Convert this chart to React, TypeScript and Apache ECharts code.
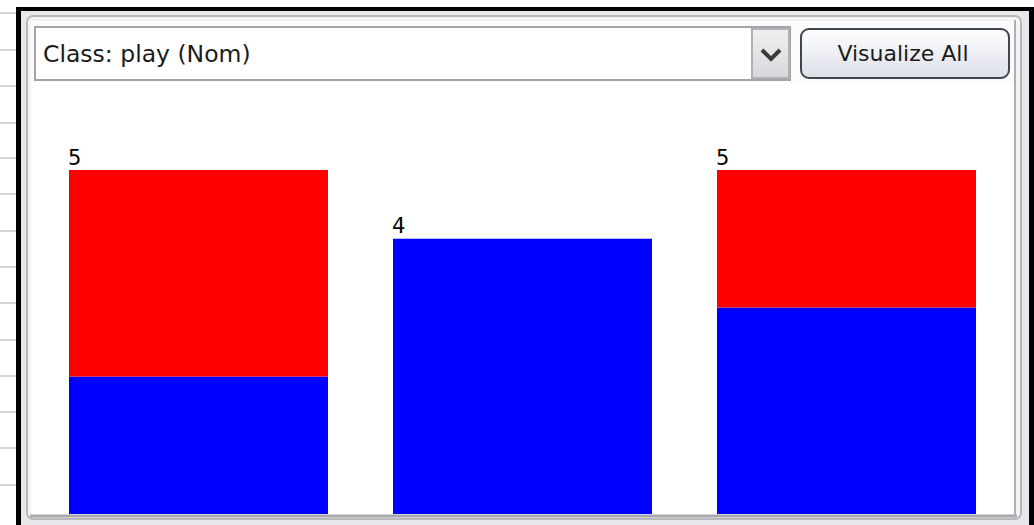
import React, { useEffect, useRef } from "react";
import * as echarts from "echarts";

const categories = ["sunny", "overcast", "rainy"];
const yesCounts = [2, 4, 3];
const noCounts = [3, 0, 2];
const totals = [5, 4, 5];
const classLabel = "Class: play (Nom)";
const buttonLabel = "Visualize All";
const tableLineYs = [13, 50, 86, 123, 158, 194, 231, 267, 303, 340, 376, 412, 448, 485];

const FONT = "DejaVu Sans";

export default function App() {
  const ref = useRef<HTMLDivElement>(null);
  useEffect(() => {
    if (!ref.current) return;
    const chart = echarts.init(ref.current, null, { renderer: "svg" });
    const graphics: any[] = [];
    tableLineYs.forEach((y) =>
      graphics.push({
        type: "line",
        z: -10,
        shape: { x1: 0, y1: y, x2: 16, y2: y },
        style: { stroke: "#d4d4d4", lineWidth: 2 },
      })
    );
    graphics.push({
      type: "rect",
      z: -10,
      shape: { x: 21, y: 11, width: 1008, height: 514 },
      style: { fill: "#e8e8ec" },
    });
    graphics.push({
      type: "rect",
      z: -9,
      shape: { x: 27, y: 16, width: 994, height: 503, r: 6 },
      style: { fill: "#f3f3f5", stroke: "#b8b8bc", lineWidth: 2 },
    });
    graphics.push({
      type: "rect",
      z: -8,
      shape: { x: 31, y: 82, width: 983, height: 433 },
      style: { fill: "#ffffff" },
    });
    graphics.push({
      type: "rect",
      z: -8,
      shape: { x: 31, y: 21, width: 983, height: 62 },
      style: { fill: "#fbfbfc" },
    });
    graphics.push({
      type: "line",
      z: -7,
      shape: { x1: 30, y1: 516, x2: 1017, y2: 516 },
      style: { stroke: "#a8a8ac", lineWidth: 3 },
    });
    graphics.push({
      type: "line",
      z: -7,
      shape: { x1: 1015, y1: 20, x2: 1015, y2: 516 },
      style: { stroke: "#b0b0b4", lineWidth: 2 },
    });
    graphics.push({ type: "rect", z: 10, shape: { x: 16, y: 7, width: 1018, height: 4 }, style: { fill: "#000" } });
    graphics.push({ type: "rect", z: 10, shape: { x: 16, y: 7, width: 5, height: 518 }, style: { fill: "#000" } });
    graphics.push({ type: "rect", z: 10, shape: { x: 1029, y: 7, width: 5, height: 518 }, style: { fill: "#000" } });
    graphics.push({
      type: "rect",
      z: 1,
      shape: { x: 35, y: 27, width: 755, height: 53 },
      style: { fill: "#ffffff", stroke: "#a4a4a8", lineWidth: 2 },
    });
    graphics.push({
      type: "text",
      z: 2,
      x: 43,
      y: 54,
      style: { text: classLabel, font: `23.5px "${FONT}"`, fill: "#1a1a1a", verticalAlign: "middle", align: "left" },
    });
    graphics.push({
      type: "rect",
      z: 2,
      shape: { x: 752, y: 29, width: 37, height: 49 },
      style: {
        fill: new echarts.graphic.LinearGradient(0, 0, 0, 1, [
          { offset: 0, color: "#f0f0f2" },
          { offset: 1, color: "#d8d8dc" },
        ]),
        stroke: "#b0b0b6",
        lineWidth: 2,
      },
    });
    graphics.push({
      type: "polyline",
      z: 3,
      shape: { points: [[762, 50], [771, 59], [780, 50]] },
      style: { stroke: "#3a3a3a", lineWidth: 4, fill: "none" },
    });
    graphics.push({
      type: "rect",
      z: 1,
      shape: { x: 801, y: 29, width: 208, height: 49, r: 8 },
      style: {
        fill: new echarts.graphic.LinearGradient(0, 0, 0, 1, [
          { offset: 0, color: "#ffffff" },
          { offset: 1, color: "#dcdfe8" },
        ]),
        stroke: "#3e4650",
        lineWidth: 2,
      },
    });
    graphics.push({
      type: "text",
      z: 2,
      x: 903,
      y: 53,
      style: { text: buttonLabel, font: `22px "${FONT}"`, fill: "#1a1a1a", verticalAlign: "middle", align: "center" },
    });

    chart.setOption({
      animation: false,
      backgroundColor: "#ffffff",
      graphic: graphics,
      grid: { left: 36.5, right: 25.5, top: 170, bottom: 11 },
      xAxis: { type: "category", data: categories, show: false },
      yAxis: { type: "value", min: 0, max: 5, show: false },
      series: [
        {
          name: "yes",
          type: "bar",
          stack: "play",
          barWidth: 259,
          data: yesCounts,
          itemStyle: { color: "#0000ff" },
          z: 2,
        },
        {
          name: "no",
          type: "bar",
          stack: "play",
          barWidth: 259,
          data: noCounts,
          itemStyle: { color: "#ff0000" },
          z: 2,
        },
        {
          name: "total",
          type: "bar",
          barWidth: 259,
          barGap: "-100%",
          data: totals,
          itemStyle: { color: "rgba(0,0,0,0)" },
          z: 3,
          label: {
            show: true,
            position: [-1, -2],
            align: "left",
            verticalAlign: "bottom",
            color: "#000",
            fontFamily: FONT,
            fontSize: 21,
          },
        },
      ],
    });
    return () => chart.dispose();
  }, []);
  return (
    <div
      ref={ref}
      style={{ position: "fixed", left: 0, top: 0, width: 1034, height: 525 }}
    />
  );
}
